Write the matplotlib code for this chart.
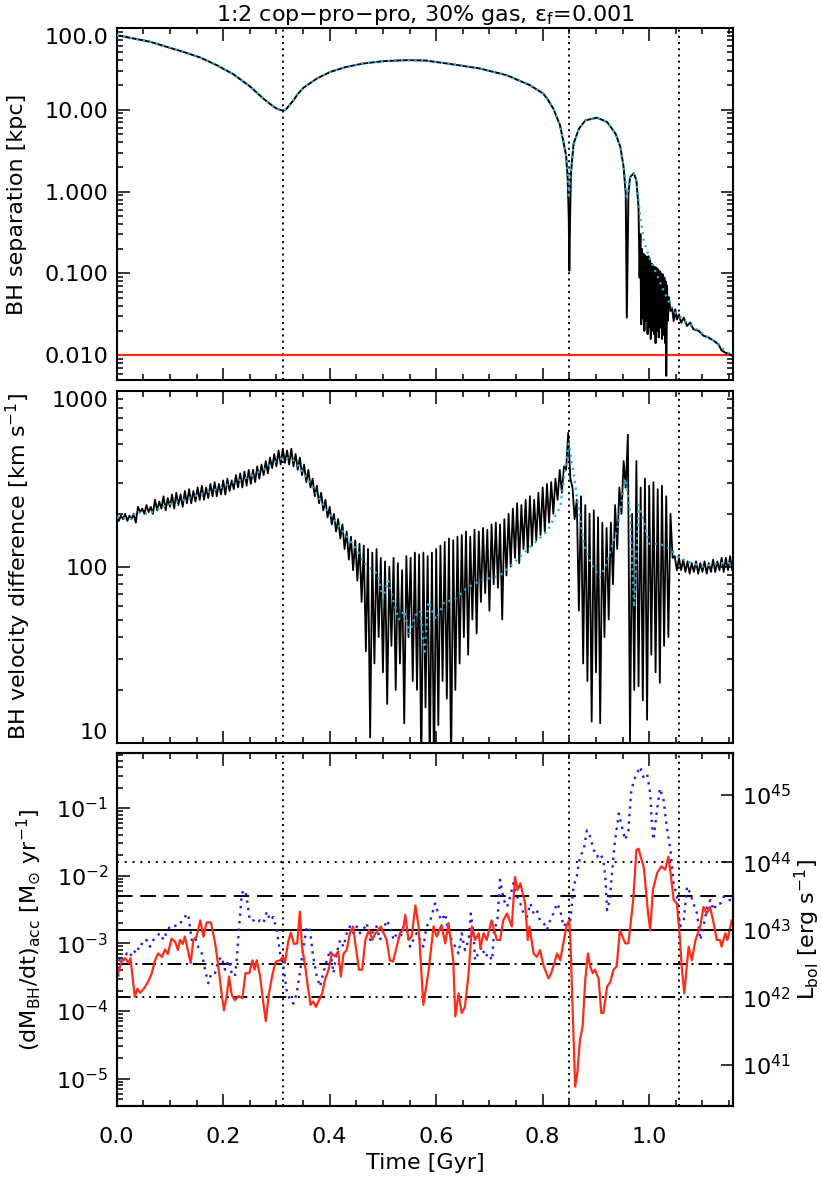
import numpy as np
import matplotlib
matplotlib.use('Agg')
import matplotlib.pyplot as plt
from matplotlib.ticker import FixedLocator, FixedFormatter, NullFormatter, LogLocator

plt.rcParams['font.family'] = ['DejaVu Sans']
plt.rcParams['mathtext.default'] = 'regular'
plt.rcParams['font.size'] = 16

# ---------------- data ----------------
t_events = [0.313, 0.8495, 1.0556]   # vertical dotted lines [Gyr]

# Top panel: BH separation (log10 kpc)
t_sep = [0.000, 0.063, 0.094, 0.125, 0.157, 0.188, 0.219, 0.250, 0.2755, 0.294,
         0.300, 0.307, 0.310, 0.313, 0.316, 0.319, 0.325, 0.332, 0.340, 0.351,
         0.376, 0.401, 0.430, 0.463, 0.500, 0.545, 0.580, 0.620, 0.650, 0.682,
         0.7325, 0.776, 0.801, 0.810, 0.820, 0.8326, 0.839, 0.844, 0.847, 0.849,
         0.850, 0.8515,
         0.853, 0.858, 0.868, 0.880, 0.902, 0.921, 0.937, 0.946, 0.952, 0.956,
         0.958, 0.961, 0.964, 0.971, 0.976, 0.980,
         0.982, 0.9835, 0.985, 0.9865, 0.988, 0.9895, 0.991, 0.9925, 0.994, 0.9955,
         0.997, 0.9985, 1.000, 1.0015, 1.003, 1.0045, 1.006, 1.0075, 1.009, 1.0105,
         1.012, 1.0135, 1.015, 1.0165, 1.018, 1.0195, 1.021, 1.0225, 1.024, 1.0255,
         1.027, 1.0285, 1.030, 1.0315, 1.032, 1.0335, 1.035, 1.037, 1.040,
         1.043, 1.046, 1.049, 1.052, 1.056, 1.060, 1.065, 1.071, 1.077,
         1.083, 1.093, 1.102, 1.111, 1.121, 1.130, 1.136, 1.143, 1.149, 1.155]
log_sep = [1.910, 1.829, 1.767, 1.706, 1.637, 1.543, 1.433, 1.286, 1.135, 1.041,
           1.015, 0.998, 0.993, 0.990, 0.995, 1.012, 1.060, 1.114, 1.190, 1.269,
           1.380, 1.461, 1.520, 1.564, 1.592, 1.605, 1.600, 1.564, 1.535, 1.503,
           1.421, 1.299, 1.197, 1.120, 1.013, 0.809, 0.605, 0.442, 0.150, -0.314,
           -0.967, -0.310,
           0.216, 0.584, 0.767, 0.869, 0.902, 0.849, 0.706, 0.543, 0.298, -0.029,
           -1.539, -0.029, 0.176, 0.224, 0.135, -0.192,
           -1.05, -0.52, -1.62, -0.70, -1.55, -0.76, -1.70, -0.78, -1.58, -0.80,
           -1.74, -0.79, -1.66, -0.84, -1.80, -0.88, -1.70, -0.90, -1.74, -0.92,
           -1.85, -0.93, -1.70, -0.95, -1.78, -0.97, -1.66, -1.00, -1.80, -1.01,
           -1.75, -1.05, -1.85, -1.10, -2.25, -1.15, -1.58, -1.29, -1.457,
           -1.416, -1.58, -1.437, -1.56, -1.50, -1.60, -1.54, -1.64, -1.60,
           -1.68, -1.70, -1.76, -1.78, -1.82, -1.865, -1.94, -1.967, -1.98, -2.00]

# Top panel: smoothed separation (cyan dotted)
t_sep_avg = [0.000, 0.063, 0.094, 0.125, 0.157, 0.188, 0.219, 0.250, 0.2755, 0.294,
             0.300, 0.307, 0.310, 0.313, 0.316, 0.319, 0.325, 0.332, 0.340, 0.351,
             0.376, 0.401, 0.430, 0.463, 0.500, 0.545, 0.580, 0.620, 0.650, 0.682,
             0.7325, 0.776, 0.801, 0.810, 0.820, 0.8326, 0.839, 0.844, 0.847, 0.849,
             0.852, 0.858,
             0.868, 0.880, 0.902, 0.921, 0.937, 0.946, 0.952, 0.956, 0.958, 0.961,
             0.964, 0.971, 0.976, 0.980, 0.984, 0.990, 1.000, 1.010, 1.020, 1.030,
             1.036, 1.046, 1.056, 1.071, 1.093, 1.111, 1.130, 1.143, 1.155]
log_sep_avg = [1.910, 1.829, 1.767, 1.706, 1.637, 1.543, 1.433, 1.286, 1.135, 1.041,
               1.015, 0.998, 0.993, 0.990, 0.995, 1.012, 1.060, 1.114, 1.190, 1.269,
               1.380, 1.461, 1.520, 1.564, 1.592, 1.605, 1.600, 1.564, 1.535, 1.503,
               1.421, 1.299, 1.197, 1.120, 1.013, 0.809, 0.605, 0.442, 0.25, -0.05,
               0.20, 0.56,
               0.767, 0.869, 0.902, 0.849, 0.706, 0.543, 0.298, 0.10, -0.10, 0.05,
               0.18, 0.224, 0.135, -0.10, -0.35, -0.60, -0.80, -0.95, -1.10, -1.25,
               -1.33, -1.46, -1.52, -1.60, -1.70, -1.78, -1.86, -1.95, -1.99]

sep_resolution = 0.01   # kpc, red line

# Middle panel: BH velocity difference (log10 km/s).
# Orbital oscillation peaks at t = 0.008*i and troughs at t = 0.008*i + 0.004
osc_step = 0.008
log_vel_peak = [2.30, 2.29, 2.30, 2.29, 2.30, 2.34, 2.33, 2.35, 2.34, 2.38,
                2.37, 2.40, 2.39, 2.41, 2.42, 2.41, 2.43, 2.44, 2.43, 2.45,
                2.46, 2.45, 2.47, 2.48, 2.47, 2.49, 2.50, 2.49, 2.52, 2.53,
                2.54, 2.55, 2.55, 2.57, 2.58, 2.60, 2.62, 2.64, 2.66, 2.67,
                2.66, 2.67, 2.64, 2.62, 2.58, 2.55, 2.50, 2.46, 2.42, 2.38,
                2.34, 2.30, 2.27, 2.24, 2.20, 2.17, 2.15, 2.13, 2.12, 2.10,
                2.08, 2.10, 2.05, 2.03, 2.00, 2.05, 2.02, 1.98, 2.06, 2.05,
                2.08, 2.07, 2.08, 2.06, 2.08, 2.10, 2.12, 2.14, 2.16, 2.15,
                2.17, 2.18, 2.20, 2.17, 2.21, 2.20, 2.22, 2.21, 2.24, 2.25,
                2.24, 2.27, 2.30, 2.33, 2.36, 2.35, 2.38, 2.40, 2.38, 2.42,
                2.45, 2.47, 2.48, 2.50, 2.55, 2.57, 2.76, 2.45, 2.38, 2.40,
                2.35, 2.30, 2.32, 2.28, 2.25, 2.22, 2.25, 2.35, 2.45, 2.60,
                2.75, 2.30, 2.60, 2.45, 2.50, 2.46, 2.48, 2.44, 2.46, 2.40,
                2.30, 2.06, 2.05, 2.04, 2.03, 2.02, 2.03, 2.02, 2.03, 2.02,
                2.04, 2.03, 2.05, 2.05, 2.06]
log_vel_trough = [2.26, 2.27, 2.26, 2.27, 2.25, 2.31, 2.30, 2.31, 2.30, 2.32,
                  2.33, 2.32, 2.34, 2.33, 2.35, 2.34, 2.36, 2.36, 2.37, 2.38,
                  2.38, 2.39, 2.40, 2.40, 2.41, 2.41, 2.43, 2.44, 2.45, 2.45,
                  2.46, 2.47, 2.48, 2.50, 2.52, 2.53, 2.56, 2.57, 2.58, 2.59,
                  2.58, 2.57, 2.55, 2.52, 2.48, 2.45, 2.40, 2.36, 2.32, 2.28,
                  2.24, 2.20, 2.16, 2.10, 2.04, 1.98, 1.92, 1.80, 1.52, 1.03,
                  1.45, 1.60, 1.40, 1.22, 1.55, 1.30, 1.45, 1.11, 1.60, 1.35,
                  1.30, 0.85, 1.20, 0.85, 0.80, 1.10, 1.35, 1.25, 0.85, 1.30,
                  1.45, 1.60, 1.50, 1.70, 1.62, 1.80, 1.85, 1.75, 1.90, 1.88,
                  1.70, 1.95, 2.00, 2.05, 2.02, 2.10, 2.08, 2.12, 2.15, 2.18,
                  2.20, 2.25, 2.30, 2.38, 2.42, 2.55, 2.50, 2.27, 1.75, 1.45,
                  1.35, 1.12, 1.40, 1.11, 1.60, 1.70, 1.90, 2.10, 2.30, 2.45,
                  1.00, 1.30, 1.32, 1.24, 1.13, 1.50, 1.40, 1.34, 1.55, 1.60,
                  2.05, 1.98, 1.98, 1.97, 1.96, 1.97, 1.96, 1.97, 1.96, 1.97,
                  1.97, 1.98, 1.97, 1.98, 1.98]

# Middle panel: smoothed velocity (cyan dotted)
t_vel_avg = [0.000, 0.030, 0.035, 0.060, 0.094, 0.125, 0.156, 0.188, 0.219, 0.250,
             0.280, 0.300, 0.313, 0.330, 0.345, 0.360, 0.380, 0.407, 0.430, 0.450,
             0.465, 0.480, 0.490, 0.500, 0.510, 0.520, 0.530, 0.540, 0.550, 0.560,
             0.570, 0.578, 0.585, 0.600, 0.615, 0.633, 0.658, 0.683, 0.720, 0.745,
             0.776, 0.808, 0.833, 0.849, 0.860, 0.877, 0.890, 0.908, 0.920, 0.940,
             0.955, 0.963, 0.972, 0.980, 0.988, 1.000, 1.020, 1.040, 1.052, 1.071,
             1.100, 1.130, 1.155]
log_vel_avg = [2.28, 2.27, 2.31, 2.30, 2.35, 2.38, 2.41, 2.44, 2.48, 2.51,
               2.56, 2.60, 2.62, 2.61, 2.56, 2.49, 2.39, 2.27, 2.18, 2.10,
               2.02, 1.98, 1.96, 1.82, 1.92, 1.80, 1.70, 1.75, 1.62, 1.72,
               1.75, 1.50, 1.80, 1.70, 1.80, 1.81, 1.88, 1.92, 1.95, 2.02,
               2.11, 2.20, 2.34, 2.70, 2.49, 2.13, 2.02, 1.94, 2.02, 2.21,
               2.50, 2.35, 1.77, 2.35, 2.28, 2.13, 2.13, 2.10, 2.06, 2.03,
               2.00, 2.02, 2.02]

# Bottom panel: accretion rate, log10 Msun/yr (red solid)
t_acc = [0.003, 0.009, 0.016, 0.022, 0.026, 0.034, 0.039, 0.044, 0.051, 0.059,
         0.066, 0.072, 0.078, 0.085, 0.091, 0.096, 0.103, 0.110, 0.115, 0.119,
         0.124, 0.128, 0.135, 0.139, 0.144, 0.150, 0.157, 0.163, 0.169, 0.177,
         0.185, 0.191, 0.197, 0.2015, 0.207, 0.211, 0.216, 0.222, 0.229, 0.236,
         0.242, 0.249, 0.255, 0.259, 0.263, 0.269, 0.274, 0.280, 0.286, 0.293,
         0.299, 0.307, 0.312, 0.316, 0.322, 0.327, 0.333, 0.339, 0.344, 0.348,
         0.354, 0.360, 0.364, 0.369, 0.374, 0.380, 0.386, 0.391, 0.398, 0.404,
         0.410, 0.416, 0.421, 0.426, 0.432, 0.438, 0.444, 0.449, 0.455, 0.461,
         0.467, 0.474, 0.480, 0.486, 0.496, 0.507, 0.513, 0.519, 0.526, 0.532,
         0.538, 0.542, 0.548, 0.554, 0.561, 0.567, 0.576, 0.586, 0.595, 0.601,
         0.610, 0.617, 0.623, 0.629, 0.632, 0.636, 0.642, 0.648, 0.654, 0.661,
         0.667, 0.673, 0.680, 0.683, 0.689, 0.695, 0.704, 0.714, 0.720, 0.726,
         0.733, 0.742, 0.748, 0.753, 0.758, 0.767, 0.772, 0.775, 0.783, 0.789,
         0.795, 0.802, 0.807, 0.811, 0.816, 0.820, 0.827, 0.833, 0.845, 0.850,
         0.852, 0.855, 0.858, 0.861, 0.865, 0.870, 0.875, 0.880, 0.885, 0.889,
         0.894, 0.898, 0.905, 0.910, 0.914, 0.921, 0.927, 0.933, 0.939, 0.945,
         0.955, 0.961, 0.970, 0.976, 0.980, 0.988, 0.990, 0.998, 1.002, 1.007,
         1.015, 1.023, 1.030, 1.036, 1.041, 1.046, 1.052, 1.058, 1.061, 1.066,
         1.074, 1.080, 1.087, 1.096, 1.102, 1.108, 1.114, 1.120, 1.127, 1.133,
         1.136, 1.143, 1.147, 1.155]
log_acc = [-3.44, -3.27, -3.22, -3.29, -3.22, -3.79, -3.67, -3.73, -3.67, -3.57,
           -3.44, -3.25, -3.15, -3.20, -3.09, -3.16, -2.93, -2.98, -3.10, -2.95,
           -3.01, -2.90, -3.15, -3.29, -2.95, -2.90, -2.66, -2.90, -2.69, -2.69,
           -3.00, -3.34, -3.74, -3.99, -3.76, -3.49, -3.76, -3.84, -3.78, -3.81,
           -3.44, -3.44, -3.25, -3.39, -3.25, -3.47, -3.79, -4.15, -3.74, -3.44,
           -3.27, -3.25, -3.20, -3.29, -2.98, -2.84, -3.01, -3.00, -2.53, -3.05,
           -3.34, -3.69, -3.91, -3.86, -3.94, -3.84, -3.74, -3.54, -3.39, -3.15,
           -3.19, -3.12, -3.49, -3.15, -3.10, -2.85, -2.75, -3.05, -3.39, -3.39,
           -2.95, -2.80, -2.95, -2.85, -2.75, -2.95, -3.25, -3.27, -3.05, -2.85,
           -2.80, -2.58, -2.95, -2.90, -2.44, -2.75, -3.91, -3.39, -2.75, -2.90,
           -2.73, -3.00, -2.70, -3.05, -3.25, -4.08, -3.74, -4.03, -3.94, -3.44,
           -2.75, -2.95, -2.85, -3.07, -2.85, -2.95, -2.66, -2.95, -2.95, -2.66,
           -2.56, -2.75, -2.02, -2.21, -2.11, -2.41, -2.95, -2.75, -3.15, -3.20,
           -3.10, -3.34, -3.44, -3.52, -3.44, -3.34, -3.15, -3.25, -2.73, -2.66,
           -2.95, -3.69, -4.43, -5.12, -4.92, -4.43, -4.23, -3.54, -3.15, -3.34,
           -3.44, -3.39, -3.52, -4.03, -4.03, -3.64, -3.57, -3.39, -3.34, -2.80,
           -3.00, -3.00, -2.36, -1.62, -1.60, -1.83, -1.88, -2.56, -2.81, -2.21,
           -1.96, -1.86, -1.91, -1.72, -2.01, -2.36, -2.41, -2.95, -3.34, -3.74,
           -3.05, -3.25, -2.95, -2.75, -2.46, -2.56, -2.46, -2.66, -2.95, -2.95,
           -3.05, -2.85, -2.95, -2.66]

# Bottom panel: second accretion rate series, log10 Msun/yr (blue dotted)
t_acc2 = [0.003, 0.006, 0.0125, 0.019, 0.025, 0.031, 0.0376, 0.044, 0.050, 0.056,
          0.0626, 0.069, 0.075, 0.081, 0.088, 0.094, 0.100, 0.106, 0.113, 0.119,
          0.125, 0.1315, 0.135, 0.141, 0.147, 0.153, 0.160, 0.166, 0.172, 0.178,
          0.185, 0.191, 0.197, 0.2035, 0.210, 0.216, 0.222, 0.2254, 0.230, 0.235,
          0.240, 0.244, 0.250, 0.257, 0.263, 0.269, 0.2755, 0.282, 0.288, 0.294,
          0.3006, 0.307, 0.313, 0.319, 0.3256, 0.332, 0.338, 0.344, 0.349, 0.354,
          0.358, 0.363, 0.369, 0.3757, 0.382, 0.388, 0.3945, 0.401, 0.407, 0.413,
          0.4195, 0.426, 0.432, 0.438, 0.4446, 0.451, 0.457, 0.4634, 0.4696, 0.476,
          0.482, 0.488, 0.4947, 0.501, 0.507, 0.5135, 0.520, 0.526, 0.532, 0.5385,
          0.545, 0.551, 0.557, 0.5636, 0.570, 0.576, 0.582, 0.589, 0.598, 0.604,
          0.610, 0.617, 0.623, 0.629, 0.636, 0.642, 0.648, 0.654, 0.661, 0.665,
          0.670, 0.673, 0.679, 0.686, 0.692, 0.698, 0.705, 0.709, 0.715, 0.720,
          0.727, 0.733, 0.739, 0.745, 0.752, 0.758, 0.764, 0.770, 0.777, 0.783,
          0.789, 0.795, 0.802, 0.808, 0.814, 0.820, 0.827, 0.833, 0.839, 0.845,
          0.852, 0.858, 0.864, 0.870, 0.877, 0.883, 0.889, 0.896, 0.902, 0.908,
          0.914, 0.918, 0.921, 0.926, 0.930, 0.936, 0.943, 0.949, 0.955, 0.961,
          0.966, 0.971, 0.977, 0.983, 0.989, 0.996, 1.002, 1.005, 1.008, 1.014,
          1.020, 1.027, 1.033, 1.040, 1.046, 1.052, 1.058, 1.065, 1.071, 1.077,
          1.083, 1.090, 1.096, 1.102, 1.109, 1.115, 1.121, 1.127, 1.134, 1.140,
          1.146, 1.155]
log_acc2 = [-3.49, -3.20, -3.25, -3.15, -3.20, -3.10, -3.15, -3.00, -3.02, -2.95,
            -3.05, -2.95, -2.90, -2.85, -2.95, -2.83, -2.75, -2.73, -2.75, -2.70,
            -2.66, -2.56, -2.61, -2.95, -2.90, -3.05, -3.15, -3.39, -3.59, -3.44,
            -3.44, -3.25, -3.20, -3.39, -3.25, -3.44, -3.49, -3.25, -2.75, -2.26,
            -2.21, -2.31, -2.66, -2.66, -2.70, -2.66, -2.70, -2.53, -2.66, -2.61,
            -2.80, -3.15, -3.34, -3.69, -3.84, -3.89, -3.74, -3.44, -3.15, -2.90,
            -2.75, -2.80, -3.20, -3.49, -3.64, -3.44, -3.25, -3.10, -3.44, -3.15,
            -2.95, -3.05, -2.85, -2.75, -2.85, -2.75, -2.85, -2.80, -2.70, -2.95,
            -2.80, -2.75, -2.95, -2.80, -2.66, -2.75, -2.95, -2.85, -2.95, -2.75,
            -2.80, -3.05, -2.95, -2.85, -2.95, -3.05, -2.75, -2.66, -2.41, -2.56,
            -2.66, -2.56, -2.85, -2.95, -3.05, -3.15, -2.85, -3.10, -2.95, -2.56,
            -2.85, -3.25, -3.15, -3.05, -3.20, -3.15, -3.25, -2.80, -2.66, -2.06,
            -2.36, -2.46, -2.31, -2.11, -2.31, -2.41, -2.56, -2.61, -2.41, -2.56,
            -2.51, -2.66, -2.70, -2.80, -2.66, -2.56, -2.41, -2.51, -2.75, -2.70,
            -2.66, -2.16, -2.01, -1.72, -1.62, -1.33, -1.42, -1.62, -1.72, -1.67,
            -1.77, -2.06, -2.51, -2.36, -1.97, -1.47, -1.08, -1.28, -1.47, -1.33,
            -0.78, -0.59, -0.49, -0.39, -0.54, -0.49, -0.78, -1.23, -1.47, -1.08,
            -0.71, -0.88, -1.28, -1.62, -2.11, -2.31, -2.75, -2.66, -2.16, -2.26,
            -2.41, -2.56, -2.95, -2.75, -2.46, -2.36, -2.51, -2.41, -2.41, -2.31,
            -2.36, -2.36]

# Reference luminosity levels [erg/s] and luminosity per unit accretion rate
L_levels = [1e42, 10**42.5, 1e43, 10**43.5, 1e44]
L_styles = [(0, (7, 2.5, 1, 2.5, 1, 2.5, 1, 2.5)), (0, (7, 2.5, 1, 2.5)), '-',
            (0, (8, 4)), (0, (1, 3))]
L_per_mdot = 10**45.8   # erg/s per Msun/yr

title = r'1:2 cop$-$pro$-$pro, 30% gas, $\epsilon_{f}$=0.001'

# ---------------- figure ----------------
fig = plt.figure(figsize=(8.21, 11.77), dpi=100)
L, W = 0.1421, 0.7511
ax1 = fig.add_axes([L, 0.6771, W, 0.2993])
ax2 = fig.add_axes([L, 0.3690, W, 0.2991])
ax3 = fig.add_axes([L, 0.0606, W, 0.2994])

xmax = 1.158
cyan = '#1cb4e6'
red = '#ff2b17'
blue = '#1a1aff'

def style_axes(ax, right=True):
    for s in ax.spines.values():
        s.set_linewidth(1.5)
    ax.set_xlim(0, xmax)
    ax.xaxis.set_major_locator(FixedLocator([0.0, 0.2, 0.4, 0.6, 0.8, 1.0]))
    ax.xaxis.set_minor_locator(FixedLocator(np.arange(0.05, 1.16, 0.05)))
    ax.tick_params(which='both', direction='in', top=True, right=right, width=1.1)
    ax.tick_params(which='major', length=9)
    ax.tick_params(which='minor', length=4.5)
    ax.tick_params(axis='y', which='major', pad=6)
    ax.tick_params(axis='x', which='major', pad=15)
    for te in t_events:
        ax.axvline(te, color='black', linestyle=(0, (1, 2.2)), lw=1.4, zorder=1)

# ----- top panel
ax1.set_yscale('log')
ax1.plot(t_sep, 10**np.array(log_sep), color='black', lw=1.4, zorder=3)
ax1.plot(t_sep_avg, 10**np.array(log_sep_avg), color=cyan, lw=1.6,
         linestyle=(0, (1, 2)), zorder=4)
ax1.axhline(sep_resolution, color=red, lw=1.6, zorder=2)
ax1.set_ylim(0.005, 100)
style_axes(ax1)
ax1.yaxis.set_major_locator(FixedLocator([0.01, 0.1, 1, 10, 100]))
ax1.yaxis.set_major_formatter(FixedFormatter(['0.010', '0.100', '1.000', '10.00', '100.0']))
ax1.yaxis.set_minor_locator(LogLocator(base=10, subs=np.arange(2, 10)))
ax1.yaxis.set_minor_formatter(NullFormatter())
ax1.xaxis.set_major_formatter(NullFormatter())
ax1.set_ylabel('BH separation [kpc]')
ax1.yaxis.set_label_coords(-0.1455, 0.5)
ax1.set_title(title, fontsize=16, pad=5)

# ----- middle panel
ax2.set_yscale('log')
n_osc = len(log_vel_peak)
t_vel = np.empty(2 * n_osc)
t_vel[0::2] = osc_step * np.arange(n_osc)
t_vel[1::2] = osc_step * np.arange(n_osc) + osc_step / 2
log_vel = np.empty(2 * n_osc)
log_vel[0::2] = log_vel_peak
log_vel[1::2] = log_vel_trough
ax2.plot(t_vel, 10**log_vel, color='black', lw=1.3, zorder=3)
ax2.plot(t_vel_avg, 10**np.array(log_vel_avg), color=cyan, lw=1.6,
         linestyle=(0, (1, 2)), zorder=4)
ax2.set_ylim(10, 1000)
style_axes(ax2)
ax2.yaxis.set_major_locator(FixedLocator([10, 100, 1000]))
ax2.yaxis.set_major_formatter(FixedFormatter(['10', '100', '1000']))
ax2.yaxis.set_minor_locator(LogLocator(base=10, subs=np.arange(2, 10)))
ax2.yaxis.set_minor_formatter(NullFormatter())
ax2.xaxis.set_major_formatter(NullFormatter())
ax2.set_ylabel(r'BH velocity difference [km s$^{-1}$]')
ax2.yaxis.set_label_coords(-0.1357, 0.5)

# ----- bottom panel
ax3.set_yscale('log')
ylo, yhi = 10**-5.40, 10**-0.19
for Lv, ls in zip(L_levels, L_styles):
    ax3.axhline(Lv / L_per_mdot, color='black', lw=1.4, linestyle=ls, zorder=2)
ax3.plot(t_acc2, 10**np.array(log_acc2), color=blue, lw=1.7,
         linestyle=(0, (1, 2.2)), zorder=3)
ax3.plot(t_acc, 10**np.array(log_acc), color=red, lw=1.6, zorder=4)
ax3.set_ylim(ylo, yhi)
style_axes(ax3, right=False)
ax3.yaxis.set_major_locator(FixedLocator([1e-5, 1e-4, 1e-3, 1e-2, 1e-1]))
ax3.yaxis.set_major_formatter(FixedFormatter([r'$10^{-5}$', r'$10^{-4}$', r'$10^{-3}$',
                                              r'$10^{-2}$', r'$10^{-1}$']))
ax3.yaxis.set_minor_locator(LogLocator(base=10, subs=np.arange(2, 10)))
ax3.yaxis.set_minor_formatter(NullFormatter())
ax3.xaxis.set_major_formatter(FixedFormatter(['0.0', '0.2', '0.4', '0.6', '0.8', '1.0']))
ax3.set_xlabel('Time [Gyr]', labelpad=5)
ax3.set_ylabel(r'(dM$_{BH}$/dt)$_{acc}$ [M$_{\odot}$ yr$^{-1}$]')
ax3.yaxis.set_label_coords(-0.1195, 0.5)

ax3r = ax3.twinx()
ax3r.set_yscale('log')
ax3r.set_ylim(ylo * L_per_mdot, yhi * L_per_mdot)
ax3r.yaxis.set_major_locator(FixedLocator([1e41, 1e42, 1e43, 1e44, 1e45]))
ax3r.yaxis.set_major_formatter(FixedFormatter([r'$10^{41}$', r'$10^{42}$', r'$10^{43}$',
                                               r'$10^{44}$', r'$10^{45}$']))
ax3r.yaxis.set_minor_locator(FixedLocator([]))
ax3r.tick_params(axis='y', which='major', direction='in', length=9, width=1.1, pad=6)
for s in ax3r.spines.values():
    s.set_linewidth(1.5)
ax3r.set_ylabel(r'L$_{bol}$ [erg s$^{-1}$]')
ax3r.yaxis.set_label_coords(1.097, 0.5)

# align edge labels inside the axes like the reference
fig.canvas.draw()
ax1.get_yticklabels()[-1].set_va('top')
ax2.get_yticklabels()[-1].set_va('top')
ax2.get_yticklabels()[0].set_va('bottom')

fig.savefig('out.png', dpi=100)
